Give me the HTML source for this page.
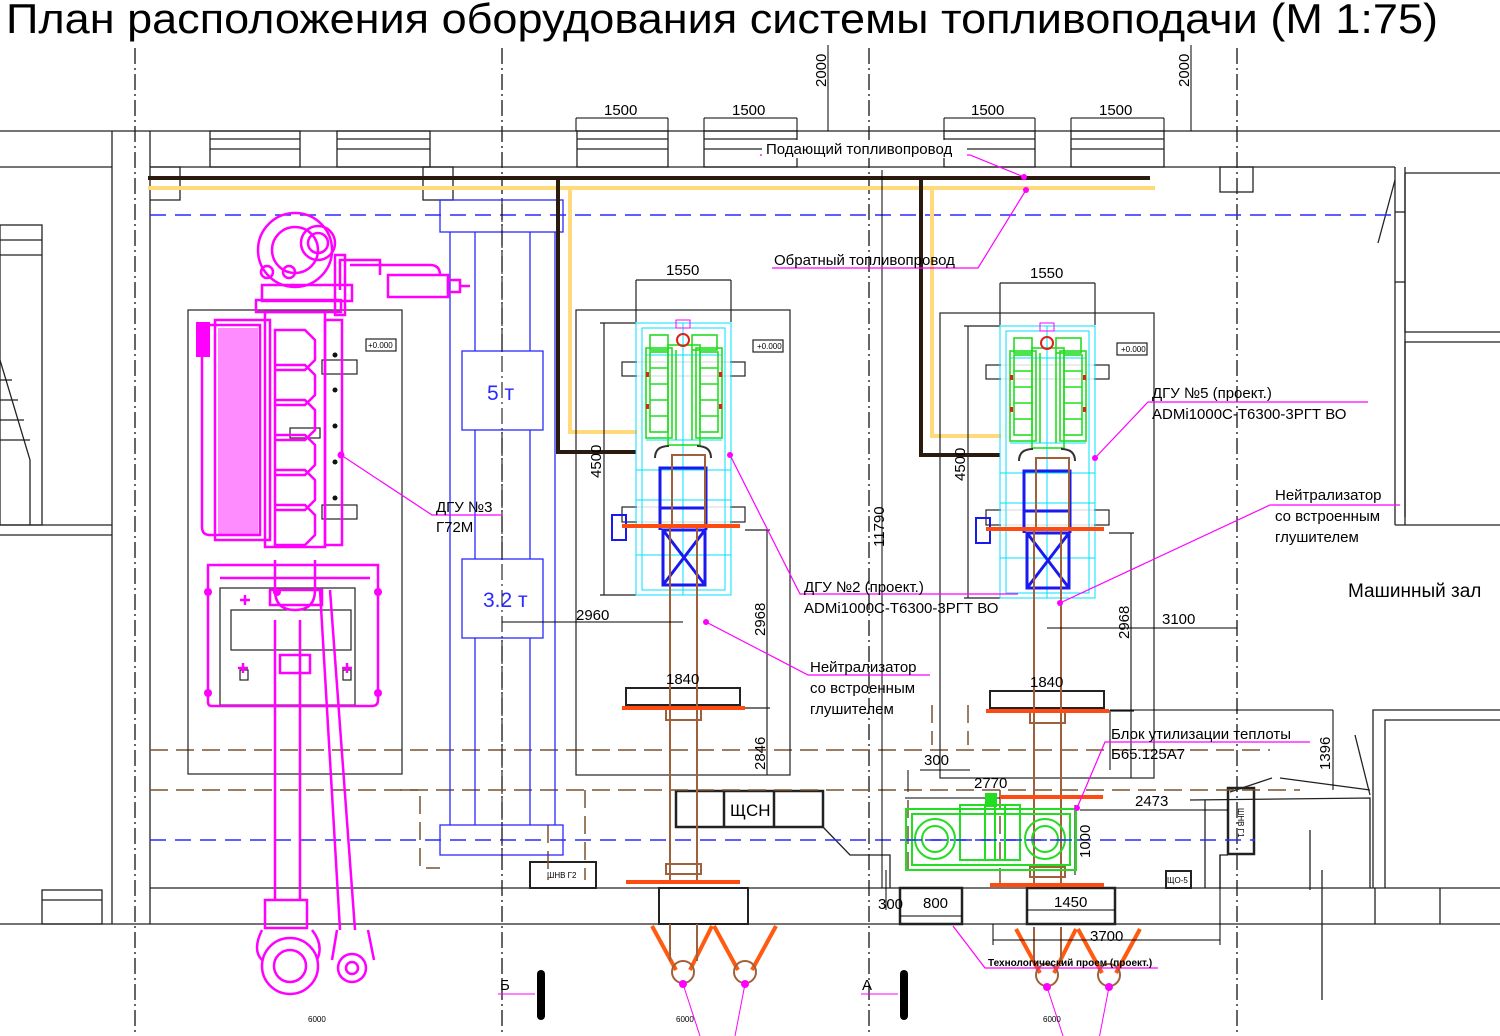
<!DOCTYPE html>
<html><head><meta charset="utf-8"><style>
html,body{margin:0;padding:0;background:#fff;}
svg{display:block;}
text{font-family:"Liberation Sans","DejaVu Sans",sans-serif;}
</style></head><body>
<svg width="1500" height="1036" viewBox="0 0 1500 1036" xmlns="http://www.w3.org/2000/svg">
<rect width="1500" height="1036" fill="#fff"/>
<text x="6" y="33" font-size="42" textLength="1432" lengthAdjust="spacingAndGlyphs" fill="#000">План расположения оборудования системы топливоподачи (М 1:75)</text>

<!-- axes -->
<g stroke="#000" stroke-width="1.2" stroke-dasharray="16,4,2,4">
<line x1="135" y1="48" x2="135" y2="1036"/>
<line x1="502" y1="48" x2="502" y2="1036"/>
<line x1="869" y1="48" x2="869" y2="1036"/>
<line x1="1237" y1="48" x2="1237" y2="1036"/>
</g>

<!-- walls -->
<g stroke="#222" stroke-width="1.3" fill="none">
<line x1="0" y1="131" x2="1500" y2="131"/>
<line x1="0" y1="167" x2="112" y2="167"/>
<line x1="150" y1="167" x2="1395" y2="167"/>
<line x1="112" y1="131" x2="112" y2="924"/>
<line x1="150" y1="131" x2="150" y2="924"/>
<rect x="210" y="131" width="90" height="36"/><line x1="210" y1="139" x2="300" y2="139"/><line x1="210" y1="149" x2="300" y2="149"/>
<rect x="337" y="131" width="93" height="36"/><line x1="337" y1="139" x2="430" y2="139"/><line x1="337" y1="149" x2="430" y2="149"/>
<rect x="577" y="131" width="91" height="36"/><line x1="577" y1="139" x2="668" y2="139"/><line x1="577" y1="149" x2="668" y2="149"/>
<rect x="704" y="131" width="93" height="36"/><line x1="704" y1="139" x2="797" y2="139"/><line x1="704" y1="149" x2="797" y2="149"/>
<rect x="944" y="131" width="91" height="36"/><line x1="944" y1="139" x2="1035" y2="139"/><line x1="944" y1="149" x2="1035" y2="149"/>
<rect x="1071" y="131" width="93" height="36"/><line x1="1071" y1="139" x2="1164" y2="139"/><line x1="1071" y1="149" x2="1164" y2="149"/>
<polyline points="150,167 180,167 180,200 150,200"/>
<rect x="423" y="167" width="30" height="33"/>
<rect x="1220" y="167" width="33" height="25"/>
<line x1="1395" y1="167" x2="1395" y2="525"/><line x1="1405" y1="167" x2="1405" y2="525"/>
<polyline points="1405,173 1500,173"/><polyline points="1405,173 1405,332 1500,332"/>
<line x1="1395" y1="212" x2="1405" y2="212"/>
<line x1="1395" y1="282" x2="1405" y2="282"/>
<polyline points="1395,525 1500,525"/><polyline points="1405,517 1405,342 1500,342"/>
<line x1="1395" y1="180" x2="1378" y2="243"/>
<!-- left side -->
<rect x="0" y="225" width="42" height="300"/>
<line x1="0" y1="240" x2="42" y2="240"/><line x1="0" y1="255" x2="42" y2="255"/>
<line x1="0" y1="525" x2="112" y2="525"/>
<line x1="0" y1="535" x2="112" y2="535"/>
<polyline points="0,360 30,460 30,525"/>
<line x1="0" y1="380" x2="12" y2="380"/><line x1="0" y1="400" x2="18" y2="400"/><line x1="0" y1="420" x2="24" y2="420"/><line x1="0" y1="440" x2="30" y2="440"/>
<rect x="42" y="890" width="60" height="34"/>
<line x1="42" y1="900" x2="102" y2="900"/>
<!-- bottom wall -->
<line x1="150" y1="888" x2="1500" y2="888"/>
<line x1="0" y1="924" x2="1500" y2="924"/>
<line x1="1375" y1="888" x2="1375" y2="924"/>
<line x1="1440" y1="888" x2="1440" y2="924"/>
<!-- right bottom room -->
<polyline points="1373,888 1373,710 1500,710"/>
<polyline points="1385,888 1385,720 1500,720"/>
<line x1="1310" y1="890" x2="1310" y2="830"/>
<line x1="1322" y1="870" x2="1322" y2="1000"/>
<line x1="1355" y1="735" x2="1370" y2="795"/>
<polyline points="1230,792 1272,778"/><polyline points="1280,778 1370,790"/>
<polyline points="1190,800 1370,798 1370,888"/>
<polyline points="1205,888 1205,800"/>
<!-- panels -->
<rect x="530" y="862" width="66" height="26" stroke-width="2"/>
<rect x="1228" y="788" width="26" height="66" stroke-width="2.5"/>
<polyline points="1220,888 1220,855 1228,855"/>
<rect x="1166" y="871" width="25" height="17" stroke-width="2"/>
<rect x="676" y="791" width="147" height="36" stroke-width="2.5"/><line x1="724" y1="791" x2="724" y2="827" stroke-width="2.5"/><line x1="774" y1="791" x2="774" y2="827" stroke-width="2.5"/>
<polyline points="823,827 850,855 890,855 890,888"/>
<rect x="659" y="888" width="89" height="36" stroke-width="2"/>
<rect x="900" y="888" width="62" height="36" stroke-width="2.5"/>
<rect x="1027" y="888" width="88" height="36" stroke-width="2.5"/>
</g>
<g font-size="9" fill="#000">
<text x="547" y="878" font-size="8">ШНВ Г2</text>
<text x="1167" y="883" font-size="8">ЩО-5</text>
<text x="1238" y="808" font-size="8" transform="rotate(90 1238 808)">ШНВ Г1</text>
</g>
<text x="730" y="816" font-size="17">ЩСН</text>

<!-- dashed service lines -->
<g fill="none" stroke-width="1.5">
<line x1="150" y1="215" x2="1395" y2="215" stroke="#2a2aff" stroke-dasharray="16,9"/>
<line x1="150" y1="840" x2="1255" y2="840" stroke="#2a2aff" stroke-dasharray="16,9"/>
<g stroke="#7a5230" stroke-dasharray="18,8">
<line x1="150" y1="750" x2="1270" y2="750"/>
<line x1="150" y1="790" x2="1300" y2="790"/>
<polyline points="400,790 420,790 420,868 440,868"/>
<polyline points="548,825 548,880"/>
<polyline points="585,790 585,880"/>
<polyline points="908,870 908,790"/>
<polyline points="932,705 932,745"/>
<polyline points="968,705 968,745"/>
<polyline points="1000,790 1000,888"/>
</g>
</g>

<!-- crane -->
<g stroke="#2a2aff" stroke-width="1.3" fill="none">
<rect x="440" y="200" width="123" height="32"/>
<rect x="440" y="825" width="123" height="30"/>
<line x1="450" y1="232" x2="450" y2="825"/><line x1="475" y1="232" x2="475" y2="825"/>
<line x1="530" y1="232" x2="530" y2="825"/><line x1="555" y1="232" x2="555" y2="825"/>
<rect x="462" y="351" width="81" height="79" fill="#fff"/>
<rect x="462" y="559" width="81" height="79" fill="#fff"/>
</g>
<line x1="502" y1="200" x2="502" y2="860" stroke="#000" stroke-dasharray="16,4,2,4"/>
<text x="487" y="400" font-size="21" fill="#2a2aff">5 т</text>
<text x="483" y="607" font-size="21" fill="#2a2aff">3.2 т</text>

<!-- fuel lines -->
<line x1="148" y1="178" x2="1150" y2="178" stroke="#2b1a0e" stroke-width="4"/>
<line x1="148" y1="188" x2="1155" y2="188" stroke="#ffd97a" stroke-width="4"/>
<g fill="none" stroke-width="4">
<polyline points="558,178 558,452 636,452" stroke="#2b1a0e"/>
<polyline points="570,188 570,432 640,432 640,420" stroke="#ffd97a"/>
<polyline points="921,178 921,455 1000,455" stroke="#2b1a0e"/>
<polyline points="932,188 932,436 1004,436 1004,424" stroke="#ffd97a"/>
</g>

<!-- GENSET (DGU2) -->
<g id="gs">
<g fill="none" stroke="#222" stroke-width="1.2">
<rect x="576" y="310" width="214" height="465"/>
<rect x="753" y="340" width="30" height="12"/>
<rect x="622" y="362" width="123" height="14"/>
<rect x="622" y="507" width="123" height="15"/>
<rect x="626" y="688" width="114" height="17" stroke-width="2"/>
<line x1="636" y1="280" x2="731" y2="280"/><line x1="636" y1="280" x2="636" y2="322"/><line x1="731" y1="280" x2="731" y2="322"/>
<line x1="604" y1="323" x2="604" y2="595"/><line x1="600" y1="323" x2="636" y2="323"/><line x1="600" y1="595" x2="636" y2="595"/>
<line x1="767" y1="530" x2="767" y2="775"/><line x1="745" y1="530" x2="770" y2="530"/><line x1="745" y1="708" x2="770" y2="708"/>
</g>
<rect x="755" y="342" width="26" height="8" fill="#fff"/>
<rect x="637" y="324" width="93" height="270" fill="#fff" opacity="0.85"/>
<g fill="none" stroke="#00e0ff" stroke-width="1">
<rect x="636" y="323" width="95" height="272"/>
<rect x="642" y="328" width="83" height="262"/>
<line x1="683" y1="323" x2="683" y2="595"/>
<line x1="636" y1="470" x2="731" y2="470"/><line x1="636" y1="500" x2="731" y2="500"/>
<line x1="636" y1="555" x2="731" y2="555"/>
<line x1="646" y1="355" x2="722" y2="355"/><line x1="646" y1="440" x2="722" y2="440"/>
</g>
<g fill="none" stroke="#22dd22" stroke-width="1.6">
<rect x="650" y="352" width="18" height="80"/><rect x="700" y="352" width="18" height="80"/>
<rect x="646" y="348" width="26" height="90"/><rect x="696" y="348" width="26" height="90"/>
<rect x="668" y="345" width="32" height="100"/>
<line x1="676" y1="350" x2="676" y2="440"/><line x1="692" y1="350" x2="692" y2="440"/>
<line x1="650" y1="368" x2="668" y2="368"/><line x1="650" y1="384" x2="668" y2="384"/><line x1="650" y1="400" x2="668" y2="400"/><line x1="650" y1="416" x2="668" y2="416"/>
<line x1="700" y1="368" x2="718" y2="368"/><line x1="700" y1="384" x2="718" y2="384"/><line x1="700" y1="400" x2="718" y2="400"/><line x1="700" y1="416" x2="718" y2="416"/>
<rect x="692" y="335" width="25" height="15"/>
<rect x="650" y="335" width="18" height="15"/>
</g>
<g fill="#e02020"><rect x="646" y="372" width="3" height="5"/><rect x="646" y="404" width="3" height="5"/><rect x="719" y="372" width="3" height="5"/><rect x="719" y="404" width="3" height="5"/></g>
<circle cx="683" cy="340" r="6" fill="none" stroke="#e02020" stroke-width="2"/>
<rect x="676" y="320" width="14" height="8" fill="none" stroke="#ff00ff"/>
<path d="M655,458 q0,-12 14,-12 M711,458 q0,-12 -14,-12" fill="none" stroke="#333" stroke-width="2"/>
<g fill="none" stroke="#1a1aee" stroke-width="3">
<rect x="660" y="468" width="46" height="40"/>
<rect x="663" y="530" width="42" height="55"/>
<line x1="663" y1="530" x2="705" y2="585"/><line x1="705" y1="530" x2="663" y2="585"/>
<line x1="660" y1="508" x2="660" y2="530"/><line x1="706" y1="508" x2="706" y2="530"/>
<rect x="612" y="515" width="14" height="25" stroke-width="2"/>
</g>
<g fill="none" stroke="#a0603a" stroke-width="2">
<rect x="672" y="455" width="33" height="70"/>
<line x1="670" y1="525" x2="670" y2="880"/><line x1="697" y1="525" x2="697" y2="880"/>
<rect x="666" y="708" width="35" height="12"/>
<rect x="666" y="864" width="35" height="10"/>
</g>
<g stroke="#ff4a10" stroke-width="4">
<line x1="622" y1="526" x2="740" y2="526"/>
<line x1="622" y1="708" x2="745" y2="708"/>
<line x1="626" y1="882" x2="740" y2="882"/>
</g>
<g stroke="#ff5a10" stroke-width="4" fill="none">
<line x1="652" y1="926" x2="676" y2="970"/><line x1="712" y1="926" x2="690" y2="970"/>
<line x1="714" y1="926" x2="738" y2="970"/><line x1="776" y1="926" x2="752" y2="970"/>
</g>
<g stroke="#a0603a" stroke-width="2" fill="none">
<circle cx="683" cy="972" r="11"/><circle cx="745" cy="972" r="11"/>
<line x1="670" y1="924" x2="670" y2="961"/><line x1="697" y1="924" x2="697" y2="961"/>
</g>
<circle cx="683" cy="984" r="4" fill="#ff00ff"/>
<circle cx="745" cy="984" r="4" fill="#ff00ff"/>
<line x1="683" y1="984" x2="700" y2="1036" stroke="#ff00ff"/>
<line x1="745" y1="984" x2="735" y2="1036" stroke="#ff00ff"/>
</g>
<use href="#gs" transform="translate(364,3)"/>

<g font-size="15" fill="#000">
<text x="666" y="275">1550</text><text x="1030" y="278">1550</text>
<text x="601" y="478" transform="rotate(-90 601 478)">4500</text>
<text x="965" y="481" transform="rotate(-90 965 481)">4500</text>
<text x="765" y="636" transform="rotate(-90 765 636)">2968</text>
<text x="1129" y="639" transform="rotate(-90 1129 639)">2968</text>
<text x="765" y="770" transform="rotate(-90 765 770)">2846</text>
<text x="666" y="684">1840</text><text x="1030" y="687">1840</text>
<text x="576" y="620">2960</text>
<text x="1162" y="624">3100</text>
<text x="884" y="547" transform="rotate(-90 884 547)">11790</text>
<text x="604" y="115">1500</text><text x="732" y="115">1500</text>
<text x="971" y="115">1500</text><text x="1099" y="115">1500</text>
<text x="826" y="87" transform="rotate(-90 826 87)">2000</text>
<text x="1189" y="87" transform="rotate(-90 1189 87)">2000</text>
<text x="924" y="765">300</text>
<text x="974" y="788">2770</text>
<text x="1135" y="806">2473</text>
<text x="1090" y="858" transform="rotate(-90 1090 858)">1000</text>
<text x="1330" y="770" transform="rotate(-90 1330 770)">1396</text>
<text x="878" y="909">300</text>
<text x="923" y="908">800</text>
<text x="1054" y="907">1450</text>
<text x="1090" y="941">3700</text>
</g>
<g font-size="8" fill="#000">
<text x="757" y="349">+0.000</text><text x="1121" y="352">+0.000</text><text x="368" y="348">+0.000</text>
<text x="308" y="1022">6000</text><text x="676" y="1022">6000</text><text x="1043" y="1022">6000</text>
</g>
<g stroke="#000" fill="none" stroke-width="1">
<line x1="576" y1="118" x2="668" y2="118"/><line x1="704" y1="118" x2="797" y2="118"/>
<line x1="944" y1="118" x2="1035" y2="118"/><line x1="1071" y1="118" x2="1164" y2="118"/>
<line x1="576" y1="118" x2="576" y2="131"/><line x1="668" y1="118" x2="668" y2="131"/><line x1="704" y1="118" x2="704" y2="131"/><line x1="797" y1="118" x2="797" y2="131"/>
<line x1="944" y1="118" x2="944" y2="131"/><line x1="1035" y1="118" x2="1035" y2="131"/><line x1="1071" y1="118" x2="1071" y2="131"/><line x1="1164" y1="118" x2="1164" y2="131"/>
<line x1="828" y1="45" x2="828" y2="131"/><line x1="1191" y1="45" x2="1191" y2="131"/>
<line x1="882" y1="170" x2="882" y2="888"/>
<line x1="502" y1="622" x2="683" y2="622"/>
<line x1="1047" y1="628" x2="1237" y2="628"/>
<line x1="908" y1="770" x2="908" y2="790"/><line x1="920" y1="770" x2="970" y2="770"/>
<line x1="905" y1="798" x2="1075" y2="798"/>
<line x1="1080" y1="810" x2="1228" y2="810"/>
<line x1="1075" y1="805" x2="1075" y2="875"/>
<line x1="1110" y1="710" x2="1333" y2="710"/><line x1="1333" y1="710" x2="1333" y2="790"/>
<line x1="993" y1="940" x2="1220" y2="940"/><line x1="993" y1="924" x2="993" y2="945"/><line x1="1220" y1="855" x2="1220" y2="945"/>
<line x1="1027" y1="910" x2="1115" y2="910"/>
<line x1="900" y1="916" x2="962" y2="916"/>
<line x1="886" y1="870" x2="886" y2="910"/>
<line x1="1110" y1="712" x2="1110" y2="770"/>
</g>

<!-- DGU3 magenta engine -->
<g fill="none" stroke="#222" stroke-width="1.2">
<rect x="188" y="310" width="214" height="464"/>
<rect x="366" y="339" width="30" height="12"/>
<rect x="220" y="588" width="135" height="117"/>
<rect x="231" y="610" width="120" height="40"/>
<rect x="240" y="670" width="8" height="10"/><rect x="343" y="670" width="8" height="10"/>
<rect x="322" y="360" width="35" height="14"/><rect x="322" y="505" width="35" height="14"/>
<rect x="290" y="428" width="30" height="10"/>
</g>
<g fill="none" stroke="#ff00ff" stroke-width="2.5">
<circle cx="295" cy="250" r="37"/><circle cx="295" cy="250" r="23"/>
<circle cx="318" cy="243" r="17"/><circle cx="318" cy="243" r="10"/>
<circle cx="267" cy="272" r="6"/><circle cx="289" cy="272" r="6"/>
<rect x="262" y="285" width="90" height="16"/>
<rect x="256" y="300" width="85" height="12"/>
<rect x="388" y="275" width="60" height="22"/>
<rect x="448" y="280" width="12" height="12"/>
<line x1="460" y1="286" x2="470" y2="286"/>
<path d="M340,290 v-30 h40 v15 M350,265 h80 q10,0 10,10"/>
<rect x="335" y="255" width="10" height="60"/>
<path d="M200,325 h60 v210 h-50 q-8,0 -8,-8 v-190 z"/>
<rect x="215" y="320" width="55" height="220"/>
<rect x="265" y="312" width="60" height="235"/>
<rect x="325" y="320" width="17" height="225"/>
<path d="M275,330 h30 l10,10 v20 l-10,10 h-30 z M275,365 h30 l10,10 v20 l-10,10 h-30 z M275,400 h30 l10,10 v20 l-10,10 h-30 z M275,435 h30 l10,10 v20 l-10,10 h-30 z M275,470 h30 l10,10 v20 l-10,10 h-30 z M275,505 h30 l10,10 v20 l-10,10 h-30 z"/>
<path d="M208,565 h170 v135 q0,6 -6,6 h-160 q-4,0 -4,-4 z"/>
<path d="M220,578 h150"/>
<rect x="280" y="655" width="30" height="18"/>
<path d="M275,560 v30 q0,20 20,20 q20,0 20,-20 v-30"/>
<rect x="270" y="590" width="52" height="15"/>
<path d="M275,620 L275,900 M300,620 L300,900 M320,590 L340,930 M330,590 L355,930"/>
<rect x="265" y="900" width="42" height="28"/>
<path d="M262,930 q-10,20 0,30 M312,930 q12,15 5,30"/>
<circle cx="290" cy="966" r="28"/><circle cx="290" cy="966" r="16"/>
<circle cx="352" cy="968" r="14"/><circle cx="352" cy="968" r="6"/>
<path d="M337,930 l-5,30 M368,930 l6,30"/>
<line x1="240" y1="600" x2="250" y2="600"/><line x1="245" y1="595" x2="245" y2="605"/>
<line x1="342" y1="668" x2="352" y2="668"/><line x1="347" y1="663" x2="347" y2="673"/>
<line x1="238" y1="668" x2="248" y2="668"/><line x1="243" y1="663" x2="243" y2="673"/>
</g>
<rect x="196" y="322" width="14" height="35" fill="#ff00ff"/>
<rect x="218" y="328" width="40" height="208" fill="#ff00ff" opacity="0.45"/>
<g fill="#ff00ff"><circle cx="208" cy="592" r="4"/><circle cx="378" cy="592" r="4"/><circle cx="208" cy="693" r="4"/><circle cx="378" cy="693" r="4"/><circle cx="277" cy="592" r="4"/><circle cx="341" cy="455" r="3.5"/></g>
<g fill="#111"><circle cx="335" cy="355" r="2.5"/><circle cx="335" cy="390" r="2.5"/><circle cx="335" cy="426" r="2.5"/><circle cx="335" cy="462" r="2.5"/><circle cx="335" cy="498" r="2.5"/></g>

<!-- heat recovery unit -->
<g fill="none" stroke="#22dd22" stroke-width="2">
<rect x="906" y="809" width="170" height="61"/>
<rect x="912" y="814" width="158" height="51"/>
<circle cx="935" cy="839" r="20"/><circle cx="935" cy="839" r="13"/>
<circle cx="1045" cy="839" r="20"/><circle cx="1045" cy="839" r="13"/>
<rect x="960" y="805" width="60" height="55"/>
<line x1="985" y1="805" x2="985" y2="860"/><line x1="995" y1="805" x2="995" y2="860"/><line x1="1005" y1="805" x2="1005" y2="860"/>
</g>
<rect x="985" y="793" width="12" height="14" fill="#22dd22"/>
<line x1="1000" y1="797" x2="1103" y2="797" stroke="#ff4a10" stroke-width="4"/>
<line x1="906" y1="840" x2="1076" y2="840" stroke="#2a2aff" stroke-width="1.5" stroke-dasharray="16,9"/>

<!-- section markers -->
<rect x="537" y="970" width="8" height="50" rx="4" fill="#000"/>
<rect x="900" y="970" width="8" height="50" rx="4" fill="#000"/>
<line x1="498" y1="994" x2="535" y2="994" stroke="#ff00ff"/><line x1="861" y1="994" x2="898" y2="994" stroke="#ff00ff"/>
<text x="500" y="990" font-size="15">Б</text><text x="862" y="990" font-size="15">А</text>

<!-- leaders -->
<g stroke="#ff00ff" stroke-width="1.2" fill="none">
<polyline points="760,155 970,155 1024,177"/>
<polyline points="772,268 978,268 1026,190"/>
<polyline points="341,455 432,515 502,515"/>
<polyline points="730,455 800,594 1018,594"/>
<polyline points="706,622 808,675 930,675"/>
<polyline points="1095,458 1148,402 1368,402"/>
<polyline points="1060,603 1270,505 1400,505"/>
<polyline points="1077,808 1105,742 1310,742"/>
<polyline points="953,926 985,968 1158,968"/>
</g>
<g fill="#ff00ff"><circle cx="1024" cy="177" r="3"/><circle cx="1026" cy="190" r="3"/><circle cx="730" cy="455" r="3"/><circle cx="706" cy="622" r="3"/><circle cx="1095" cy="458" r="3"/><circle cx="1060" cy="603" r="3"/><circle cx="1077" cy="808" r="3"/></g>

<!-- labels -->
<g font-size="15" fill="#000">
<rect x="762" y="140" width="205" height="18" fill="#fff"/>
<text x="766" y="154">Подающий топливопровод</text>
<text x="774" y="265">Обратный топливопровод</text>
<text x="436" y="512">ДГУ №3</text>
<text x="436" y="532">Г72М</text>
<text x="804" y="592">ДГУ №2 (проект.)</text>
<text x="804" y="613">ADMi1000C-T6300-3РГТ ВО</text>
<text x="1152" y="398">ДГУ №5 (проект.)</text>
<text x="1152" y="419">ADMi1000C-T6300-3РГТ ВО</text>
<text x="810" y="672">Нейтрализатор</text>
<text x="810" y="693">со встроенным</text>
<text x="810" y="714">глушителем</text>
<text x="1275" y="500">Нейтрализатор</text>
<text x="1275" y="521">со встроенным</text>
<text x="1275" y="542">глушителем</text>
<text x="1111" y="739">Блок утилизации теплоты</text>
<text x="1111" y="759">Б65.125А7</text>
<text x="1348" y="597" font-size="19">Машинный зал</text>
<text x="988" y="966" font-size="10" font-weight="bold">Технологический проем (проект.)</text>
</g>
</svg>
</body></html>
